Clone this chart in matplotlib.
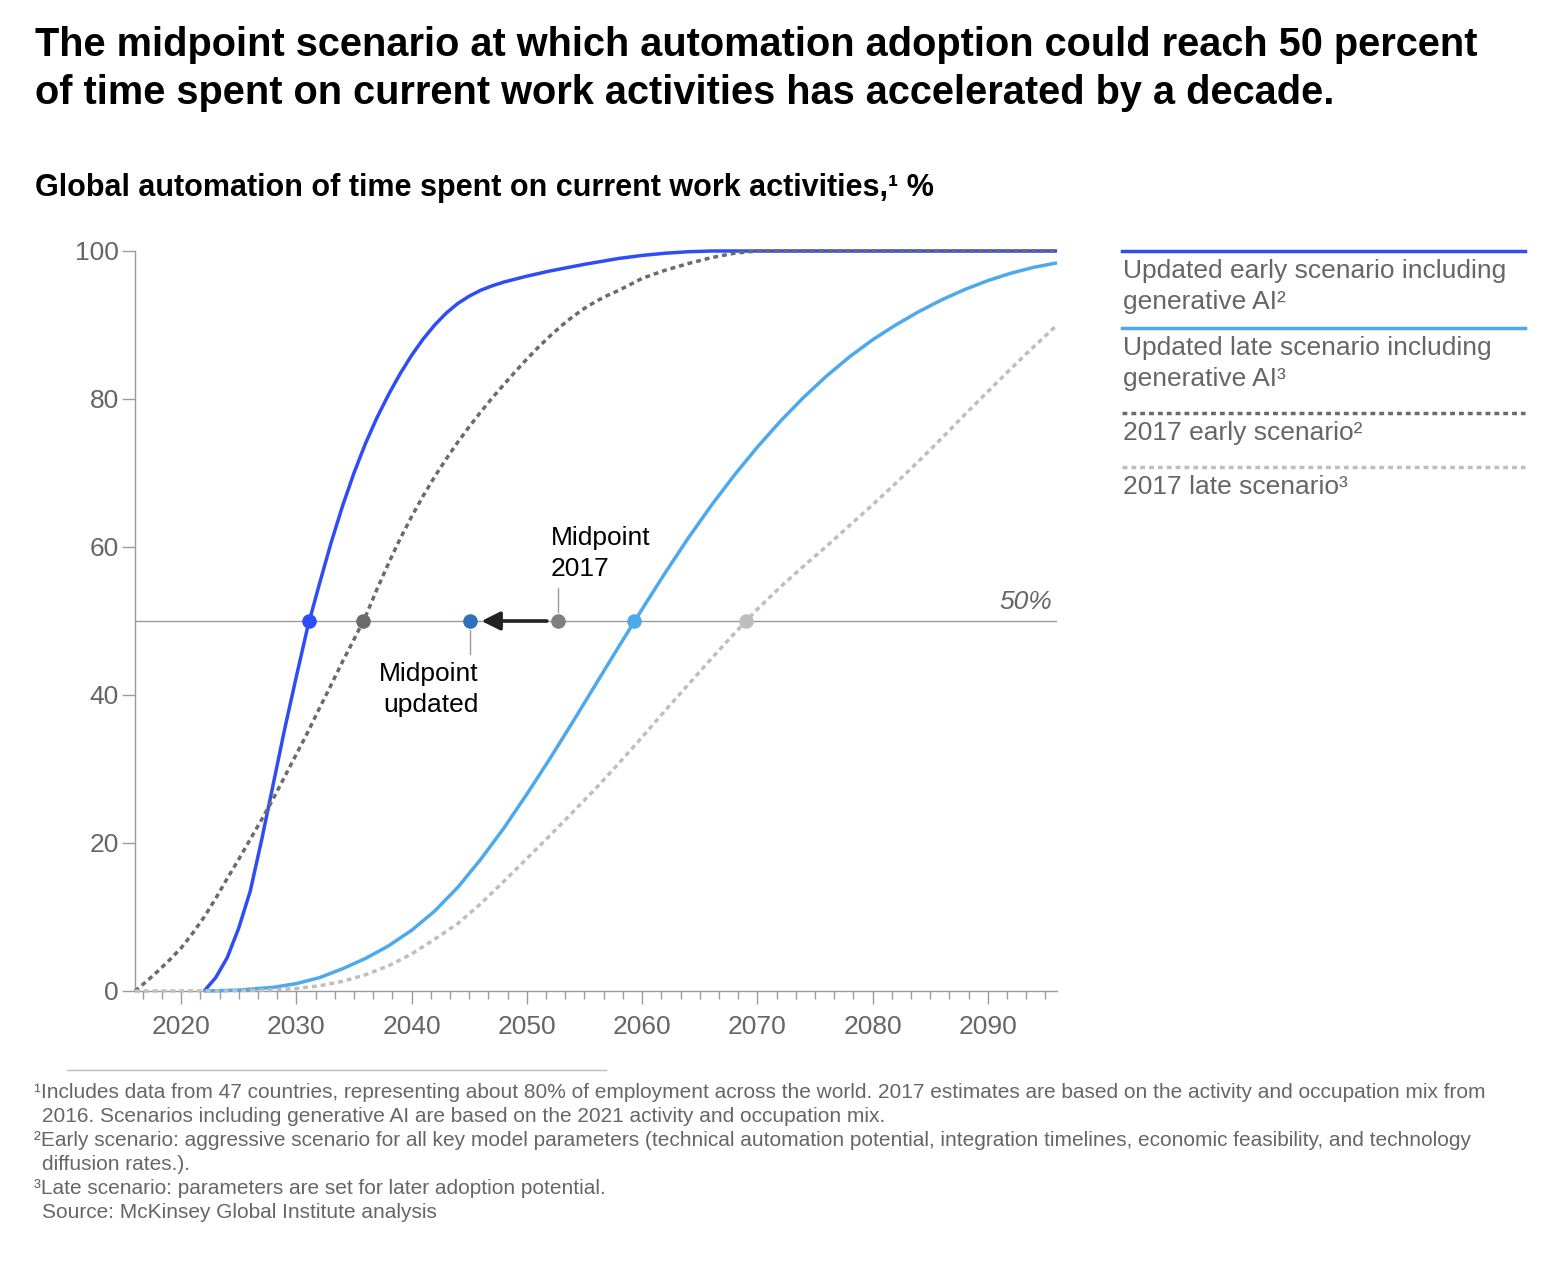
import numpy as np
import matplotlib.pyplot as plt
from matplotlib.lines import Line2D

plt.rcParams['font.family'] = ['Liberation Sans', 'DejaVu Sans']

W, H = 1560, 1268

# --- data ---
early_new_years = [2022, 2023, 2024, 2025, 2026, 2027, 2028, 2029, 2030, 2031, 2032, 2033, 2034,
                   2035, 2036, 2037, 2038, 2039, 2040, 2041, 2042, 2043, 2044, 2045, 2046, 2047,
                   2048, 2050, 2052, 2055, 2058, 2060, 2062, 2064, 2066, 2070, 2080, 2090, 2096]
early_new_vals = [0, 1.8, 4.5, 8.5, 13.5, 20.5, 28, 35.5, 42.5, 49.3, 55, 60.5, 65.5,
                  70, 74, 77.5, 80.6, 83.4, 85.9, 88.1, 90, 91.6, 92.9, 93.9, 94.7, 95.3,
                  95.8, 96.6, 97.3, 98.2, 99.0, 99.4, 99.7, 99.9, 100, 100, 100, 100, 100]

late_new_years = [2022, 2025, 2028, 2030, 2032, 2034, 2036, 2038, 2040, 2042, 2044, 2046, 2048,
                  2050, 2052, 2054, 2056, 2058, 2060, 2062, 2064, 2066, 2068, 2070, 2072, 2074,
                  2076, 2078, 2080, 2082, 2084, 2086, 2088, 2090, 2092, 2094, 2096]
late_new_vals = [0, 0.12, 0.5, 1.0, 1.8, 3.0, 4.4, 6.1, 8.2, 10.8, 14.0, 17.8, 22.0,
                 26.6, 31.4, 36.4, 41.5, 46.6, 51.6, 56.5, 61.2, 65.6, 69.7, 73.5, 77.0, 80.2,
                 83.1, 85.7, 88.0, 90.0, 91.8, 93.4, 94.8, 96.0, 97.0, 97.8, 98.4]

early_2017_years = list(range(2016, 2059)) + [2060, 2062, 2064, 2066, 2068, 2070, 2080, 2096]
early_2017_vals = [0, 1.3, 2.7, 4.2, 5.8, 7.8, 10, 12.5, 15.2, 17.8, 20.5, 23.2, 26, 29, 32,
                   35, 38.2, 41.3, 44.5, 47.5, 50.6, 54.3, 57.8, 61.1, 64.1, 66.9, 69.5, 71.9,
                   74.15, 76.25, 78.25, 80.15, 81.95, 83.7, 85.4, 87.0, 88.5, 89.9, 91.15, 92.25,
                   93.2, 94.0, 94.7, 96.3, 97.4, 98.3, 99.1, 99.7, 100, 100, 100]

late_2017_years = [2016, 2020, 2025, 2028, 2030, 2032, 2034, 2036, 2038, 2040, 2042, 2044, 2046,
                   2048, 2050, 2052, 2054, 2056, 2058, 2060, 2062, 2064, 2066, 2068, 2070, 2072,
                   2074, 2076, 2078, 2080, 2082, 2084, 2086, 2088, 2090, 2092, 2094, 2096]
late_2017_vals = [0, 0, 0.05, 0.15, 0.35, 0.7, 1.3, 2.2, 3.4, 5.0, 7.0, 9.1, 11.8,
                  14.8, 17.9, 21.0, 24.2, 27.4, 30.8, 34.3, 37.9, 41.4, 44.9, 48.3, 51.6, 54.6,
                  57.4, 60.1, 62.9, 65.7, 68.6, 71.6, 74.7, 77.9, 81.0, 84.1, 87.1, 90.0]

# year at which each scenario reaches 50%
mid_years = [2031.1, 2059.3, 2035.8, 2069.0]
mid_updated = 2045.1
mid_2017 = 2052.7

labels = [["Updated early scenario including", "generative AI²"],
          ["Updated late scenario including", "generative AI³"],
          ["2017 early scenario²"],
          ["2017 late scenario³"]]
colors = ["#2E4DF4", "#4DA8EC", "#6B6B6B", "#BEBEBE"]
dotted = (0, (1.4, 1.15))
styles = ["-", "-", dotted, dotted]

footnotes = [
    ("¹Includes data from 47 countries, representing about 80% of employment across the world. "
     "2017 estimates are based on the activity and occupation mix from", 0),
    ("2016. Scenarios including generative AI are based on the 2021 activity and occupation mix.", 1),
    ("²Early scenario: aggressive scenario for all key model parameters (technical automation "
     "potential, integration timelines, economic feasibility, and technology", 0),
    ("diffusion rates.).", 1),
    ("³Late scenario: parameters are set for later adoption potential.", 0),
    ("Source: McKinsey Global Institute analysis", 1),
]

grey_txt = "#666666"
axis_grey = "#9A9A9A"


def fx(px):
    return px / W


def fy(py):
    return 1 - py / H


fig = plt.figure(figsize=(W / 100, H / 100), dpi=100)
ax = fig.add_axes([fx(135), fy(991), fx(1057) - fx(135), fy(251) - fy(991)])

series = [(early_new_years, early_new_vals), (late_new_years, late_new_vals),
          (early_2017_years, early_2017_vals), (late_2017_years, late_2017_vals)]
for (xs, ys), c, ls in zip(series, colors, styles):
    ax.plot(xs, ys, color=c, linestyle=ls, lw=2.5, clip_on=False, zorder=3,
            solid_capstyle='butt', solid_joinstyle='round')

# 50% reference
ax.axhline(50, color=axis_grey, lw=1, zorder=1)
ax.text(2095.6, 50.9, "50%", style='italic', color=grey_txt, fontsize=19,
        ha='right', va='bottom')

# midpoints
for m, c in zip(mid_years, colors):
    ax.plot([m], [50], 'o', color=c, ms=10.5, mec='none', zorder=5)
ax.plot([mid_updated], [50], 'o', color="#2F70BA", ms=10.5, mec='none', zorder=5)
ax.plot([mid_2017], [50], 'o', color="#808080", ms=10.5, mec='none', zorder=5)
ax.annotate("", xy=(mid_updated, 50), xytext=(mid_2017, 50),
            arrowprops=dict(arrowstyle='-|>', color="#222222", lw=2.6,
                            shrinkA=8, shrinkB=8, mutation_scale=28), zorder=4)

ax.plot([mid_2017, mid_2017], [51.2, 54.5], color=axis_grey, lw=1)
ax.text(mid_2017 - 0.6, 55.4, "Midpoint\n2017", fontsize=19, ha='left', va='bottom',
        linespacing=1.35, color="black")
ax.plot([mid_updated, mid_updated], [45.6, 48.8], color=axis_grey, lw=1)
ax.text(mid_updated + 0.7, 44.4, "Midpoint\nupdated", fontsize=19, ha='right', va='top',
        linespacing=1.35, color="black")

# axes styling
ax.set_xlim(2016, 2096)
ax.set_ylim(0, 100)
for s in ['top', 'right']:
    ax.spines[s].set_visible(False)
for s in ['left', 'bottom']:
    ax.spines[s].set_color(axis_grey)
    ax.spines[s].set_linewidth(1)
ax.set_yticks([0, 20, 40, 60, 80, 100])
ax.set_xticks(list(range(2020, 2091, 10)))
ax.set_xticks(np.arange(2016 + 2 / 3, 2096.1, 10 / 6), minor=True)
ax.tick_params(axis='y', length=9.5, width=1, color=axis_grey, labelcolor=grey_txt,
               labelsize=19, pad=2)
ax.tick_params(axis='x', which='major', length=9.5, width=1, color=axis_grey,
               labelcolor=grey_txt, labelsize=19, pad=8)
ax.tick_params(axis='x', which='minor', length=5.5, width=1, color=axis_grey)

# legend drawn by hand
leg_y = [251, 328, 413, 467]
for lab, c, ls, ly in zip(labels, colors, styles, leg_y):
    fig.add_artist(Line2D([fx(1122), fx(1525)], [fy(ly), fy(ly)], color=c, lw=2.5,
                          linestyle=ls, transform=fig.transFigure))
    for i, line in enumerate(lab):
        fig.text(fx(1123), fy(ly + 20 + 31 * i), line, fontsize=19, color=grey_txt,
                 ha='left', va='center')

# titles
fig.text(fx(35), fy(45), "The midpoint scenario at which automation adoption could reach 50 percent",
         fontsize=28.6, fontweight='bold', ha='left', va='center')
fig.text(fx(35), fy(93), "of time spent on current work activities has accelerated by a decade.",
         fontsize=28.6, fontweight='bold', ha='left', va='center')
fig.text(fx(35), fy(188), "Global automation of time spent on current work activities,¹ %",
         fontsize=22, fontweight='bold', ha='left', va='center')

# footnotes
fig.add_artist(Line2D([fx(67), fx(606)], [fy(1070), fy(1070)], color="#BBBBBB", lw=1,
                      transform=fig.transFigure))
for i, (txt, indent) in enumerate(footnotes):
    fig.text(fx(34 + 8 * indent), fy(1093 + 24 * i), txt, fontsize=15, color=grey_txt,
             ha='left', va='center')

fig.savefig("out.png", dpi=100)
